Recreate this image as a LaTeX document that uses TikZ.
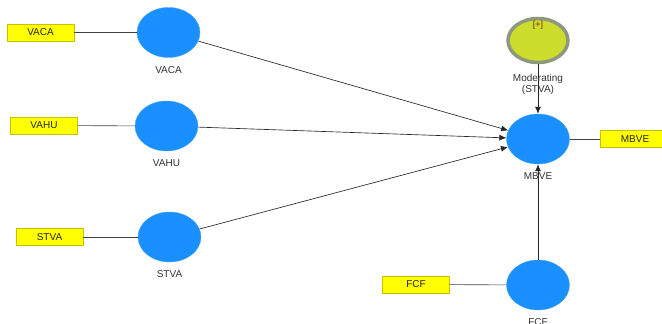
\documentclass[tikz,border=0pt]{standalone}
\usepackage{fontspec}
\setmainfont{Liberation Sans}
\usetikzlibrary{shapes.geometric,arrows.meta}
\definecolor{lvblue}{HTML}{1A8FFF}
\definecolor{indyellow}{HTML}{FFFF00}
\definecolor{indborder}{HTML}{C8C000}
\definecolor{modfill}{HTML}{CDDD2C}
\definecolor{modborder}{HTML}{8C9880}
\definecolor{plusred}{HTML}{7A2A10}
\definecolor{txtgray}{HTML}{333333}
\tikzset{
  latent/.style={ellipse, fill=lvblue, draw=lvblue!80!white, line width=0.4pt,
    minimum width=63pt, minimum height=50pt, inner sep=0pt},
  modlatent/.style={ellipse, fill=modfill, draw=modborder, line width=3.5pt,
    minimum width=60pt, minimum height=44pt, inner sep=0pt},
  indicator/.style={rectangle, fill=indyellow, draw=indborder, line width=0.6pt,
    minimum width=67pt, minimum height=17pt, inner sep=0pt,
    font=\fontsize{10}{11}\selectfont, text=black!85},
  lvlabel/.style={font=\fontsize{10}{11}\selectfont, text=txtgray, inner sep=0pt, align=center},
  loading/.style={draw=black!75, line width=0.6pt},
  path/.style={draw=black!85, line width=0.65pt, -{Latex[length=7pt,width=6pt]}}
}
\begin{document}
\begin{tikzpicture}[x=1pt,y=-1pt]
\useasboundingbox (0,0) rectangle (662,324);

% exogenous constructs
\node[latent] (vaca) at (168.5,32.5) {};
\node[latent] (vahu) at (166.5,126) {};
\node[latent] (stva) at (169.5,237) {};
\node[latent] (fcf)  at (538,285) {};
% endogenous construct and moderator
\node[latent] (mbve) at (538,139) {};
\node[modlatent] (mod) at (538,40.5) {};

% indicators
\node[indicator] (ivaca) at (40.5,32.5) {VACA};
\node[indicator] (ivahu) at (44,125.5) {VAHU};
\node[indicator] (istva) at (49.5,237) {STVA};
\node[indicator] (ifcf)  at (416,284.5) {FCF};
\node[indicator, minimum width=70pt] (imbve) at (635,139) {MBVE};

% loadings
\draw[loading] (ivaca) -- (vaca);
\draw[loading] (ivahu) -- (vahu);
\draw[loading] (istva) -- (stva);
\draw[loading] (ifcf) -- (fcf);
\draw[loading] (mbve) -- (imbve);

% structural paths
\draw[path] (vaca) -- (mbve);
\draw[path] (vahu) -- (mbve);
\draw[path] (stva) -- (mbve);
\draw[path] (mod) -- (mbve);
\draw[path] (fcf) -- (mbve);

% construct labels
\node[lvlabel] (lvaca) at (168.5,70.5) {VACA};
\node[lvlabel] (lvahu) at (166.5,163.5) {VAHU};
\node[lvlabel] (lstva) at (169.5,274.5) {STVA};
\node[lvlabel] (lmbve) at (538,176.5) {MBVE};
\node[lvlabel] (lfcf)  at (538,322) {FCF};
\node[lvlabel] (lmod) at (538,84.5) {Moderating\\(STVA)};
\node[font=\fontsize{9}{10}\selectfont, text=plusred, inner sep=0pt] (plus) at (538,25.5) {[+]};
\end{tikzpicture}
\end{document}
